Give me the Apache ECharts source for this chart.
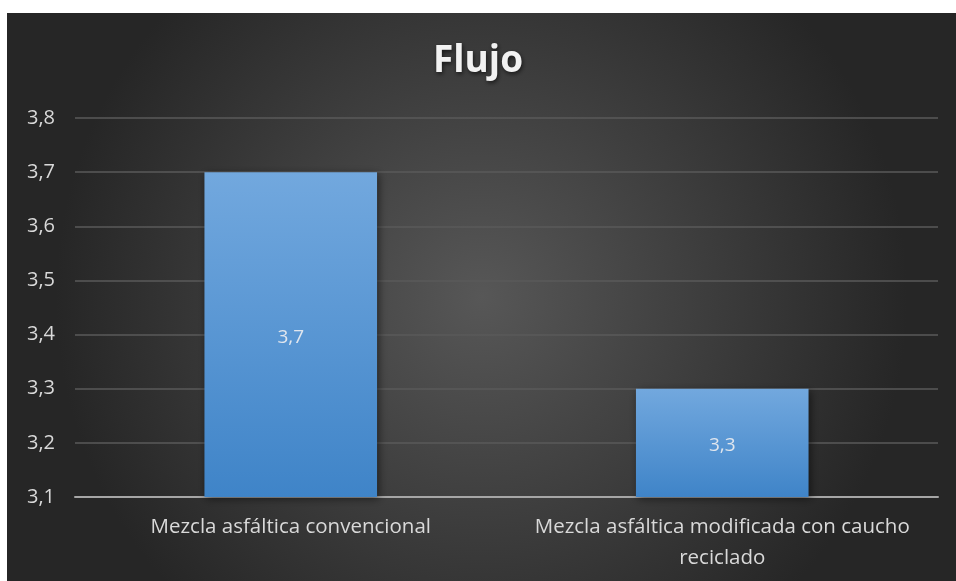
<!DOCTYPE html>
<html>
<head>
<meta charset="utf-8">
<script src="https://cdn.jsdelivr.net/npm/echarts@6/dist/echarts.min.js"></script>
<style>
  html, body { margin: 0; padding: 0; background: #ffffff; }
  #chart { width: 956px; height: 581px; }
</style>
</head>
<body>
<div id="chart"></div>
<script>
// Flow values for the two asphalt mixes
const categories = ['Mezcla asfáltica convencional', 'Mezcla asfáltica modificada con caucho\nreciclado'];
const flujo = [3.7, 3.3];
const yTicks = [3.1, 3.2, 3.3, 3.4, 3.5, 3.6, 3.7, 3.8];

const fmt = v => Number(v).toFixed(1).replace('.', ',');
const font = '"Open Sans", sans-serif';

const chart = echarts.init(document.getElementById('chart'), null, { renderer: 'canvas' });
chart.setOption({
  backgroundColor: '#ffffff',
  animation: false,
  graphic: [{
    type: 'rect',
    z: -10,
    silent: true,
    shape: { x: 7, y: 13, width: 949, height: 568 },
    style: {
      fill: new echarts.graphic.RadialGradient(0.5, 0.5, 0.75, [
        { offset: 0, color: '#575757' },
        { offset: 1, color: '#262626' }
      ])
    }
  }],
  title: {
    text: 'Flujo',
    left: 'center',
    top: 38,
    textStyle: {
      color: '#f2f2f2',
      fontFamily: font,
      fontWeight: 'bold',
      fontSize: 37,
      textShadowColor: 'rgba(0,0,0,0.6)',
      textShadowBlur: 4,
      textShadowOffsetX: 1,
      textShadowOffsetY: 2
    }
  },
  grid: { left: 75, right: 18, top: 118, bottom: 84, containLabel: false },
  xAxis: {
    type: 'category',
    data: categories,
    axisLine: { lineStyle: { color: '#a6a6a6', width: 2 } },
    axisTick: { show: false },
    axisLabel: {
      interval: 0,
      hideOverlap: false,
      color: '#d9d9d9',
      fontFamily: font,
      fontSize: 20.5,
      lineHeight: 31,
      margin: 15
    }
  },
  yAxis: {
    type: 'value',
    min: yTicks[0],
    max: yTicks[yTicks.length - 1],
    interval: 0.1,
    axisLine: { show: false },
    axisTick: { show: false },
    splitLine: { lineStyle: { color: '#5a5a5a', width: 1.5 } },
    axisLabel: {
      color: '#d9d9d9',
      fontFamily: font,
      fontSize: 20,
      margin: 20,
      formatter: v => fmt(v)
    }
  },
  series: [{
    type: 'bar',
    data: flujo,
    barCategoryGap: '60%',
    itemStyle: {
      color: new echarts.graphic.LinearGradient(0, 0, 0, 1, [
        { offset: 0, color: '#72a8de' },
        { offset: 1, color: '#3f84c8' }
      ]),
      shadowColor: 'rgba(0,0,0,0.5)',
      shadowBlur: 8,
      shadowOffsetX: 2,
      shadowOffsetY: 2
    },
    label: {
      show: true,
      position: 'inside',
      color: '#e0e6ee',
      fontFamily: font,
      fontSize: 19,
      offset: [0, 3],
      formatter: p => fmt(p.value)
    }
  }]
});
</script>
</body>
</html>
